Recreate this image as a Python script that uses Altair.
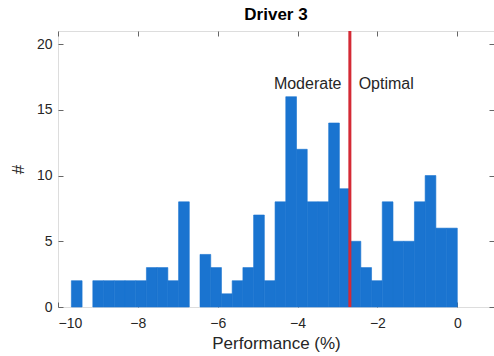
import altair as alt
import pandas as pd

# Histogram data
bin_start = -9.665
bin_width = 0.2685
counts = [2, 0, 2, 2, 2, 2, 2, 3, 3, 2, 8, 0, 4, 3, 1, 2, 3, 7, 2,
          8, 16, 12, 8, 8, 14, 9, 5, 3, 2, 8, 5, 5, 8, 10, 6, 6]
threshold = -2.69
labels = ["Moderate", "Optimal"]
label_x = [-2.90, -2.47]
label_y = [17, 17]
x_ticks = [-10, -8, -6, -4, -2, 0]
y_ticks = [0, 5, 10, 15, 20]

bars = pd.DataFrame({
    "x0": [bin_start + i * bin_width for i in range(len(counts))],
    "x1": [bin_start + (i + 1) * bin_width for i in range(len(counts))],
    "n": counts,
    "base": [0] * len(counts),
})
bars = bars[bars["n"] > 0]
rule_df = pd.DataFrame({"x": [threshold]})
left_df = pd.DataFrame({"x": label_x[:1], "y": label_y[:1], "t": labels[:1]})
right_df = pd.DataFrame({"x": label_x[1:], "y": label_y[1:], "t": labels[1:]})

FONT = "Liberation Sans"
FRAME = "#666666"
TXT = "#262626"
BAR = "#1a74d0"

xs = alt.Scale(domain=[-10, 0.92], nice=False, zero=False)
ys = alt.Scale(domain=[0, 21], nice=False, zero=False)

common_axis = dict(domain=False, grid=False, tickSize=5, offset=-5, tickColor=FRAME,
                   tickWidth=1, labelFont=FONT, labelFontSize=14, labelColor=TXT,
                   titleFont=FONT, titleFontSize=17, titleColor=TXT, titleFontWeight="normal")

bar_layer = alt.Chart(bars).mark_rect(color=BAR, stroke=BAR, strokeWidth=0.6).encode(
    x=alt.X("x0:Q", scale=xs,
            axis=alt.Axis(values=x_ticks, title="Performance (%)", labelPadding=9,
                          titlePadding=5, **common_axis)),
    x2="x1:Q",
    y=alt.Y("n:Q", scale=ys,
            axis=alt.Axis(values=y_ticks, title="#", labelPadding=6, titlePadding=9,
                          **common_axis)),
    y2="base:Q",
)

rule_layer = alt.Chart(rule_df).mark_rule(color="#d42a35", strokeWidth=3).encode(
    x=alt.X("x:Q", scale=xs,
            axis=alt.Axis(orient="top", values=x_ticks, labels=False, title=None,
                          **common_axis)),
)

text_left = alt.Chart(left_df).mark_text(font=FONT, fontSize=16, color=TXT,
                                         baseline="middle", align="right").encode(
    x=alt.X("x:Q", scale=xs, axis=None),
    y=alt.Y("y:Q", scale=ys,
            axis=alt.Axis(orient="right", values=y_ticks, labels=False, title=None,
                          **common_axis)),
    text="t:N",
)

text_right = alt.Chart(right_df).mark_text(font=FONT, fontSize=16, color=TXT,
                                          baseline="middle", align="left").encode(
    x=alt.X("x:Q", scale=xs, axis=None),
    y=alt.Y("y:Q", scale=ys, axis=None),
    text="t:N",
)

chart = alt.layer(bar_layer, rule_layer, text_left, text_right).resolve_axis(
    x="independent", y="independent"
).properties(
    width=436,
    height=276,
    title=alt.TitleParams("Driver 3", font=FONT, fontSize=17, fontWeight="bold",
                          color="#000000", anchor="middle", offset=6),
    autosize=alt.AutoSizeParams(type="none"),
    padding={"left": 58, "top": 31, "right": 0, "bottom": 49},
).configure_view(stroke=FRAME, strokeWidth=1).configure(background="white")

chart.save("out.html", embed_options={"renderer": "svg", "actions": False})
